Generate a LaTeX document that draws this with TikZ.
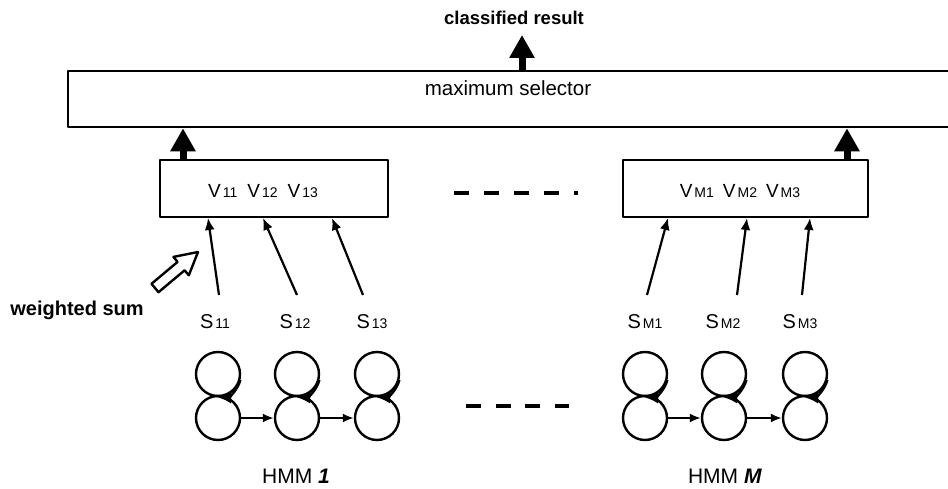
\documentclass[tikz,border=0pt]{standalone}
\usepackage{fontspec}
\setmainfont{Liberation Sans}
\usetikzlibrary{arrows.meta}
\newcommand{\sublab}[2]{#1\kern2pt{\fontsize{14}{14}\selectfont #2}}
\begin{document}
\begin{tikzpicture}[x=1pt,y=-1pt,line join=round,
  box/.style={draw,line width=2.6pt,inner sep=0pt},
  txt/.style={inner sep=0pt,anchor=center},
  state/.style={draw,circle,line width=2.4pt,minimum size=44pt,inner sep=0pt},
  thinarrow/.style={line width=2.2pt,-{Latex[length=12pt,width=10pt]}},
  looparrow/.style={line width=2.4pt,-{Latex[length=14pt,width=12pt]}},
  bigarrow/.style={line width=7pt,-{Triangle[length=23pt,width=24pt]}},
  dashline/.style={line width=4pt,dash pattern=on 15pt off 15pt}]
\useasboundingbox (0,0) rectangle (948,489);

% main selector box
\node[box,minimum width=882pt,minimum height=56pt] (ms) at (509,99) {};
\node[txt,font=\fontsize{20.5}{20.5}\selectfont] (mst) at (508,88) {maximum selector};
\node[txt,font=\fontsize{18.5}{18.5}\selectfont\bfseries] (cr) at (514,18) {classified result};
\coordinate (c3) at (522,35);
\draw[bigarrow] (ms.north -| c3) -- (c3);

% V boxes
\node[box,minimum width=228pt,minimum height=57pt] (v1) at (274,188.5) {};
\node[txt,font=\fontsize{19}{19}\selectfont] (v1t) at (263,191) {\sublab{V}{11}\hspace{10pt}\sublab{V}{12}\hspace{10pt}\sublab{V}{13}};
\node[box,minimum width=245pt,minimum height=57pt] (vm) at (745.5,188.5) {};
\node[txt,font=\fontsize{19}{19}\selectfont] (vmt) at (740,191) {\sublab{V}{M1}\hspace{9pt}\sublab{V}{M2}\hspace{9pt}\sublab{V}{M3}};

\coordinate (c1) at (183,0);
\coordinate (c2) at (847,0);
\draw[bigarrow] (v1.north -| c1) -- (ms.south -| c1);
\draw[bigarrow] (vm.north -| c2) -- (ms.south -| c2);

% dashes
\coordinate (da) at (454,193);
\coordinate (db) at (578,193);
\draw[dashline] (da) -- (db);
\coordinate (dc) at (466,406);
\coordinate (dd) at (569,406);
\draw[dashline,dash pattern=on 15pt off 14.7pt] (dc) -- (dd);

% S labels
\node[txt,font=\fontsize{20}{20}\selectfont] (s11) at (215,322) {\sublab{S}{11}};
\node[txt,font=\fontsize{20}{20}\selectfont] (s12) at (295,322) {\sublab{S}{12}};
\node[txt,font=\fontsize{20}{20}\selectfont] (s13) at (372,322) {\sublab{S}{13}};
\node[txt,font=\fontsize{20}{20}\selectfont] (sm1) at (645,322) {\sublab{S}{M1}};
\node[txt,font=\fontsize{20}{20}\selectfont] (sm2) at (723,322) {\sublab{S}{M2}};
\node[txt,font=\fontsize{20}{20}\selectfont] (sm3) at (800,322) {\sublab{S}{M3}};

% arrows S -> V
\coordinate (a11) at (219,295); \coordinate (e11) at (208,218);
\coordinate (a12) at (297,295); \coordinate (e12) at (263,218);
\coordinate (a13) at (363,295); \coordinate (e13) at (332,218);
\coordinate (am1) at (647,295); \coordinate (em1) at (668,218);
\coordinate (am2) at (737,295); \coordinate (em2) at (747,218);
\coordinate (am3) at (802,295); \coordinate (em3) at (810,218);
\foreach \n in {11,12,13,m1,m2,m3} \draw[thinarrow] (a\n) -- (e\n);

% weighted sum
\node[txt,font=\fontsize{20}{20}\selectfont\bfseries] (ws) at (77,310) {weighted sum};
\draw[line width=2.4pt] (158.5,292.2) -- (184.6,270.3) -- (188.8,275.3) -- (198,252) -- (173.4,256.9) -- (177.6,261.9) -- (151.5,283.8) -- cycle;

% HMM states
\foreach \n/\x in {1/218,2/297,3/377,4/645,5/724,6/805}{
  \node[state] (t\n) at (\x,374) {};
  \node[state] (b\n) at (\x,418) {};
  \draw[looparrow] (t\n.-15) to[bend left=38] (t\n.-92);
}
\foreach \a/\b in {1/2,2/3,4/5,5/6} \draw[line width=2pt,-{Latex[length=11pt,width=9pt]}] (b\a) -- (b\b);

\node[txt,font=\fontsize{21}{21}\selectfont] (h1) at (296,476) {HMM \textbf{\textit{1}}};
\node[txt,font=\fontsize{21}{21}\selectfont] (hm) at (725,476) {HMM \textbf{\textit{M}}};
\end{tikzpicture}
\end{document}
